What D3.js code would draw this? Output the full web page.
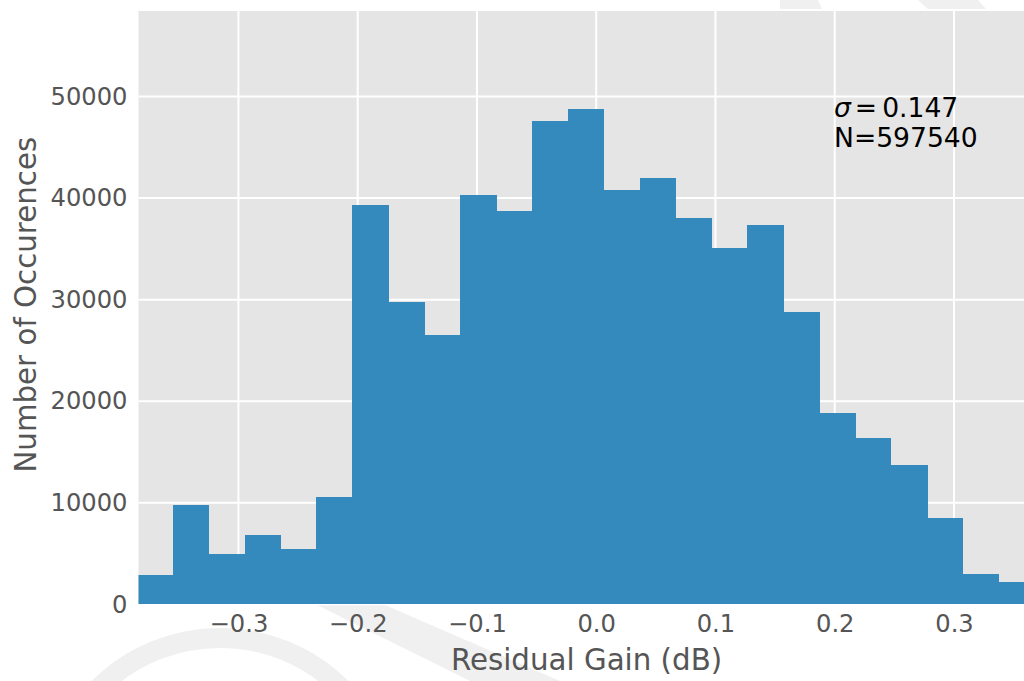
<!DOCTYPE html>
<html>
<head>
<meta charset="utf-8">
<script src="https://cdn.jsdelivr.net/npm/d3@7"></script>
<style>
  body { margin: 0; background: #fff; }
  svg { display: block; font-family: "DejaVu Sans", sans-serif; }
</style>
</head>
<body>
<div id="chart"></div>
<script>
// histogram of residual gain

// bin edges (dB) and counts per bin
const binEdges = [-0.3852, -0.3551, -0.3250, -0.2949, -0.2647, -0.2346, -0.2045,
  -0.1744, -0.1443, -0.1142, -0.0841, -0.0540, -0.0239, 0.0063, 0.0364, 0.0665,
  0.0966, 0.1267, 0.1568, 0.1869, 0.2170, 0.2471, 0.2773, 0.3074, 0.3375, 0.3676];
const counts = [2900, 9800, 5000, 6800, 5450, 10600, 39350, 29800, 26550, 40300,
  38750, 47600, 48800, 40800, 42000, 38050, 35100, 37350, 28800, 18850, 16400,
  13700, 8500, 3000, 2200];
const xTicks = [-0.3, -0.2, -0.1, 0.0, 0.1, 0.2, 0.3];
const yTicks = [0, 10000, 20000, 30000, 40000, 50000];
const sigma = "0.147";
const nTotal = 597540;

const bins = counts.map((c, i) => ({ x0: binEdges[i], x1: binEdges[i + 1], count: c }));

// --- dimensions ---
const W = 1024, H = 681;
const plot = { left: 138.5, top: 11, right: 1034.6, bottom: 604.3 };

const svg = d3.select("#chart").append("svg")
  .attr("width", W)
  .attr("height", H);

// faint watermark shapes behind the axes
svg.append("circle")
  .attr("cx", 220).attr("cy", 810).attr("r", 172)
  .attr("fill", "none")
  .attr("stroke", "#f0f0f0")
  .attr("stroke-width", 20);
svg.append("path")
  .attr("d", "M317,605 L385,605 L560,681 L470,681 Z")
  .attr("fill", "#f0f0f0");
svg.append("path")
  .attr("d", "M780,0 L818,0 L822,9 L780,9 Z M918,0 L978,0 L986,9 L928,9 Z")
  .attr("fill", "#f0f0f0");

// --- scales ---
const x = d3.scaleLinear()
  .domain([-0.3838, 0.3676])
  .range([plot.left, plot.right]);

const y = d3.scaleLinear()
  .domain([0, 58420])
  .range([plot.bottom, plot.top]);

const g = svg.append("g");

g.append("clipPath").attr("id", "clip")
  .append("rect")
  .attr("x", plot.left).attr("y", plot.top)
  .attr("width", plot.right - plot.left)
  .attr("height", plot.bottom - plot.top);

// axes background
g.append("rect")
  .attr("x", plot.left).attr("y", plot.top)
  .attr("width", plot.right - plot.left)
  .attr("height", plot.bottom - plot.top)
  .attr("fill", "#e5e5e5");

// grid
g.append("g")
  .selectAll("line")
  .data(xTicks)
  .join("line")
  .attr("x1", d => x(d)).attr("x2", d => x(d))
  .attr("y1", plot.top).attr("y2", plot.bottom)
  .attr("stroke", "#fff").attr("stroke-width", 2);

g.append("g")
  .selectAll("line")
  .data(yTicks)
  .join("line")
  .attr("x1", plot.left).attr("x2", plot.right)
  .attr("y1", d => y(d)).attr("y2", d => y(d))
  .attr("stroke", "#fff").attr("stroke-width", 2);

// bars
g.append("g")
  .attr("clip-path", "url(#clip)")
  .attr("shape-rendering", "crispEdges")
  .selectAll("rect")
  .data(bins)
  .join("rect")
  .attr("x", d => x(d.x0))
  .attr("width", d => x(d.x1) - x(d.x0) + 0.6)
  .attr("y", d => y(d.count))
  .attr("height", d => y(0) - y(d.count))
  .attr("fill", "#348abd");

// --- axes (no tick marks, ggplot look) ---
const fmtX = d => (d < 0 ? "\u2212" : "") + Math.abs(d).toFixed(1);

const xAxis = svg.append("g")
  .attr("transform", `translate(0,${plot.bottom})`)
  .call(d3.axisBottom(x).tickValues(xTicks).tickFormat(fmtX).tickSize(0).tickPadding(11));
xAxis.select(".domain").remove();
xAxis.selectAll("text")
  .attr("fill", "#555").style("font-size", "24.2px")
  .attr("font-family", "DejaVu Sans");

const yAxis = svg.append("g")
  .attr("transform", `translate(${plot.left},0)`)
  .call(d3.axisLeft(y).tickValues(yTicks).tickFormat(d3.format("d")).tickSize(0).tickPadding(11));
yAxis.select(".domain").remove();
yAxis.selectAll("text")
  .attr("fill", "#555").style("font-size", "24.2px")
  .attr("font-family", "DejaVu Sans");

// --- axis labels ---
svg.append("text")
  .attr("x", (plot.left + plot.right) / 2)
  .attr("y", 670)
  .attr("text-anchor", "middle")
  .attr("fill", "#555")
  .style("font-size", "29.3px")
  .text("Residual Gain (dB)");

svg.append("text")
  .attr("transform", "rotate(-90)")
  .attr("x", -(plot.top + plot.bottom) / 2 + 3)
  .attr("y", 36)
  .attr("text-anchor", "middle")
  .attr("fill", "#555")
  .style("font-size", "29.3px")
  .text("Number of Occurences");

// --- annotation ---
const note = svg.append("text")
  .attr("x", 834)
  .attr("y", 116.5)
  .attr("fill", "#000")
  .style("font-size", "26.6px");
note.append("tspan").attr("font-style", "italic").text("\u03c3");
note.append("tspan").attr("dx", 4).text("=");
note.append("tspan").attr("dx", 5).text(sigma);

svg.append("text")
  .attr("x", 834)
  .attr("y", 147.3)
  .attr("fill", "#000")
  .style("font-size", "26.6px")
  .text("N=" + nTotal);
</script>
</body>
</html>
